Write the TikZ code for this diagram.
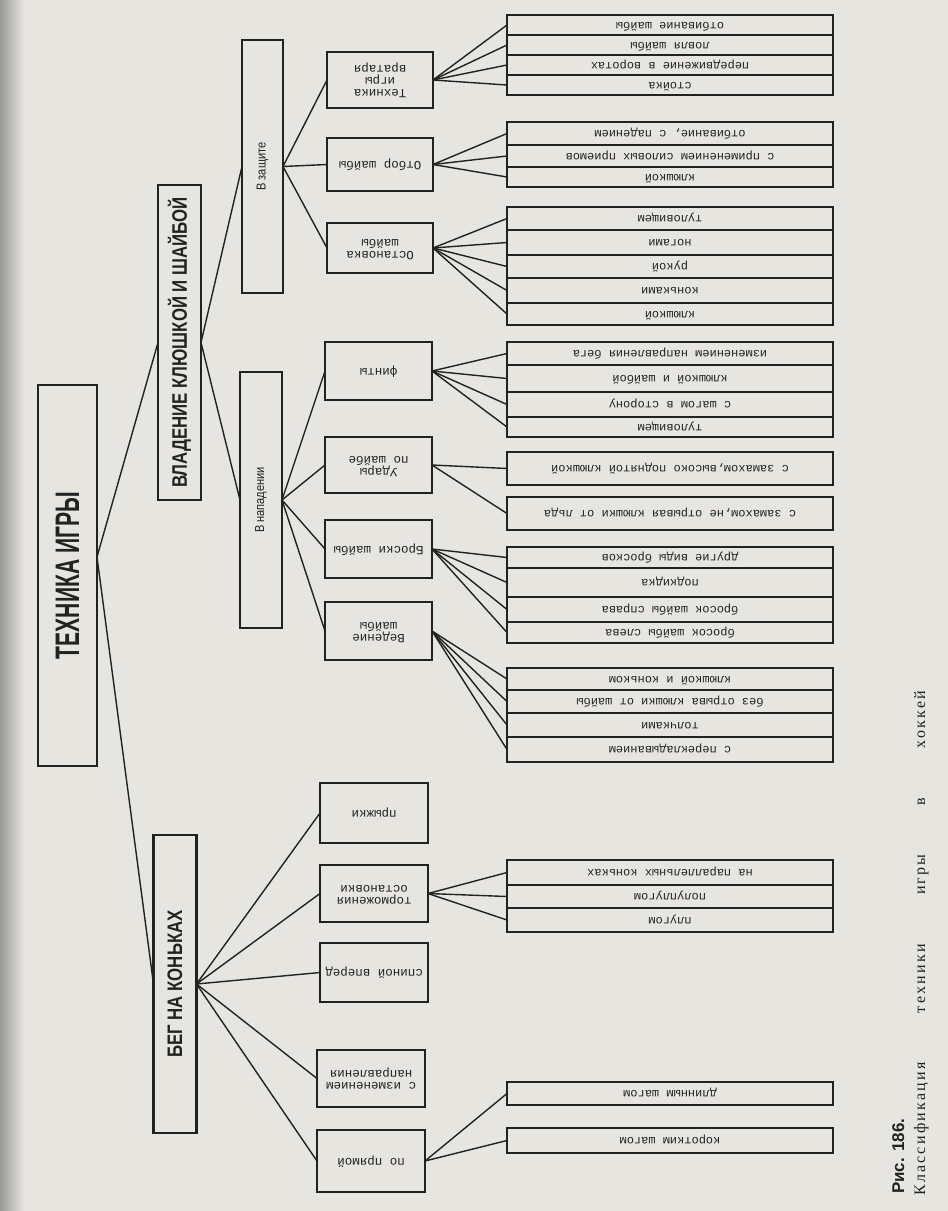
\documentclass[tikz,border=0pt]{standalone}
\usepackage{graphicx}
\usepackage{fontspec}
\setmainfont{Liberation Serif}
\newfontfamily\capserif[LetterSpace=14]{Liberation Serif}
\newfontfamily\titlesans[FakeStretch=0.62]{Liberation Sans}
\newfontfamily\headsans[FakeStretch=0.8]{Liberation Sans}
\newfontfamily\subsans[FakeStretch=0.85]{Liberation Sans}
\newfontfamily\typew{Liberation Mono}
\newfontfamily\capsans{Liberation Sans}
\usetikzlibrary{calc}
\definecolor{paper}{RGB}{231,229,224}
\definecolor{ink}{RGB}{34,34,34}
\newcommand{\updown}[1]{\rotatebox{180}{\begin{tabular}{@{}c@{}}#1\end{tabular}}}
\newcommand{\upward}[1]{\rotatebox{90}{#1}}
\tikzset{
  box/.style={draw=ink, line width=2.2pt, inner sep=0pt, outer sep=0pt, text=ink},
  lvlone/.style={box, font=\headsans\bfseries\fontsize{21}{24}\selectfont},
  lvltwo/.style={box, font=\subsans\fontsize{13}{15}\selectfont},
  lvlthree/.style={box, font=\typew\fontsize{12.5}{12}\selectfont},
  leaf/.style={draw=ink, line width=1.8pt, inner sep=0pt, outer sep=0pt, minimum width=326pt, text=ink, font=\typew\fontsize{12}{13}\selectfont},
  link/.style={draw=ink, line width=1.4pt},
}
\begin{document}
\begin{tikzpicture}[x=1pt,y=-1pt]
\useasboundingbox (0,0) rectangle (948,1211);
\fill[paper] (0,0) rectangle (948,1211);
\shade[left color=black!40, right color=paper] (0,0) rectangle (24,1211);

% level 0 and 1
\node[box, minimum width=59, minimum height=381, font=\titlesans\bfseries\fontsize{34}{36}\selectfont] (tech) at (67.5,575.5) {\upward{ТЕХНИКА ИГРЫ}};
\node[lvlone, minimum width=43, minimum height=315] (vlad) at (179.5,342.5) {\upward{ВЛАДЕНИЕ КЛЮШКОЙ И ШАЙБОЙ}};
\node[lvlone, minimum width=43, minimum height=298] (beg) at (175,984) {\upward{БЕГ НА КОНЬКАХ}};

% level 2
\node[lvltwo, minimum width=41, minimum height=253] (zashch) at (262.5,166.5) {\upward{В защите}};
\node[lvltwo, minimum width=42, minimum height=256] (napad) at (261,500) {\upward{В нападении}};

% level 3
\node[lvlthree, minimum width=106, minimum height=56] (vrat) at (380,80) {\updown{Техника\\игры\\вратаря}};
\node[lvlthree, minimum width=106, minimum height=53] (otbor) at (380,164.5) {\updown{Отбор шайбы}};
\node[lvlthree, minimum width=106, minimum height=50] (ostan) at (380,248) {\updown{Остановка\\шайбы}};
\node[lvlthree, minimum width=107, minimum height=58] (finty) at (378.5,371) {\updown{финты}};
\node[lvlthree, minimum width=107, minimum height=56] (udary) at (378.5,465) {\updown{Удары\\по шайбе}};
\node[lvlthree, minimum width=107, minimum height=58] (broski) at (378.5,549) {\updown{Броски шайбы}};
\node[lvlthree, minimum width=107, minimum height=58] (vedenie) at (378.5,631) {\updown{Ведение\\шайбы}};
\node[lvlthree, minimum width=108, minimum height=60] (pryzhki) at (374,813) {\updown{прыжки}};
\node[lvlthree, minimum width=108, minimum height=57] (torm) at (374,893.5) {\updown{торможения\\остановки}};
\node[lvlthree, minimum width=108, minimum height=59] (spinoy) at (374,972.5) {\updown{спиной вперед}};
\node[lvlthree, minimum width=108, minimum height=57] (izmen) at (371,1078.5) {\updown{с изменением\\направления}};
\node[lvlthree, minimum width=108, minimum height=62] (pryam) at (371,1161) {\updown{по прямой}};

% leaves: goalkeeper
\node[leaf, minimum height=20] (vr1) at (670,25) {\updown{отбивание шайбы}};
\node[leaf, minimum height=20] (vr2) at (670,45) {\updown{ловля шайбы}};
\node[leaf, minimum height=20] (vr3) at (670,65) {\updown{передвижение в воротах}};
\node[leaf, minimum height=20] (vr4) at (670,85) {\updown{стойка}};
% otbor
\node[leaf, minimum height=23] (ot1) at (670,133.5) {\updown{отбивание, с падением}};
\node[leaf, minimum height=22] (ot2) at (670,156) {\updown{с применением силовых приемов}};
\node[leaf, minimum height=20] (ot3) at (670,177) {\updown{клюшкой}};
% ostanovka
\node[leaf, minimum height=23] (os1) at (670,218.5) {\updown{туловищем}};
\node[leaf, minimum height=25] (os2) at (670,242.5) {\updown{ногами}};
\node[leaf, minimum height=23] (os3) at (670,266.5) {\updown{рукой}};
\node[leaf, minimum height=25] (os4) at (670,290.5) {\updown{коньками}};
\node[leaf, minimum height=22] (os5) at (670,314) {\updown{клюшкой}};
% finty
\node[leaf, minimum height=23] (fi1) at (670,353.5) {\updown{изменением направления бега}};
\node[leaf, minimum height=27] (fi2) at (670,378.5) {\updown{клюшкой и шайбой}};
\node[leaf, minimum height=25] (fi3) at (670,404.5) {\updown{с шагом в сторону}};
\node[leaf, minimum height=20] (fi4) at (670,427) {\updown{туловищем}};
% udary
\node[leaf, minimum height=33] (ud1) at (670,468.5) {\updown{с замахом,высоко поднятой клюшкой}};
\node[leaf, minimum height=33] (ud2) at (670,513.5) {\updown{с замахом,не отрывая клюшки от льда}};
% broski
\node[leaf, minimum height=21] (br1) at (670,557.5) {\updown{другие виды бросков}};
\node[leaf, minimum height=29] (br2) at (670,582.5) {\updown{подкидка}};
\node[leaf, minimum height=25] (br3) at (670,609.5) {\updown{бросок шайбы справа}};
\node[leaf, minimum height=21] (br4) at (670,632.5) {\updown{бросок шайбы слева}};
% vedenie
\node[leaf, minimum height=22] (ve1) at (670,679) {\updown{клюшкой и коньком}};
\node[leaf, minimum height=23] (ve2) at (670,701.5) {\updown{без отрыва клюшки от шайбы}};
\node[leaf, minimum height=24] (ve3) at (670,725) {\updown{толчками}};
\node[leaf, minimum height=25] (ve4) at (670,749.5) {\updown{с перекладыванием}};
% tormozhenie
\node[leaf, minimum height=25] (to1) at (670,872.5) {\updown{на параллельных коньках}};
\node[leaf, minimum height=23] (to2) at (670,896.5) {\updown{полуплугом}};
\node[leaf, minimum height=24] (to3) at (670,920) {\updown{плугом}};
% po pryamoy
\node[leaf, minimum height=23] (pr1) at (670,1093.5) {\updown{длинным шагом}};
\node[leaf, minimum height=25] (pr2) at (670,1140.5) {\updown{коротким шагом}};

% caption
\node[rotate=90, anchor=base west, inner sep=0pt, text=ink, font=\capsans\bfseries\fontsize{17}{20}\selectfont] (cap1) at (904,1194) {Рис. 186.};
\node[rotate=90, anchor=base west, inner sep=0pt, text=ink, font=\capserif\fontsize{16}{19}\selectfont] (cap2) at (925,1196) {\makebox[505pt][s]{Классификация техники игры в хоккей}};

% connectors
\coordinate (techO) at (97,557);
\draw[link] (techO) -- (vlad.west);
\draw[link] (techO) -- (beg.west);
\foreach \t in {zashch,napad} \draw[link] (vlad.east) -- (\t.west);
\foreach \t in {vrat,otbor,ostan} \draw[link] (zashch.east) -- (\t.west);
\foreach \t in {finty,udary,broski,vedenie} \draw[link] (napad.east) -- (\t.west);
\foreach \t in {pryzhki,torm,spinoy,izmen,pryam} \draw[link] (beg.east) -- (\t.west);
\foreach \t in {vr1,vr2,vr3,vr4} \draw[link] (vrat.east) -- (\t.west);
\foreach \t in {ot1,ot2,ot3} \draw[link] (otbor.east) -- (\t.west);
\foreach \t in {os1,os2,os3,os4,os5} \draw[link] (ostan.east) -- (\t.west);
\foreach \t in {fi1,fi2,fi3,fi4} \draw[link] (finty.east) -- (\t.west);
\foreach \t in {ud1,ud2} \draw[link] (udary.east) -- (\t.west);
\foreach \t in {br1,br2,br3,br4} \draw[link] (broski.east) -- (\t.west);
\foreach \t in {ve1,ve2,ve3,ve4} \draw[link] (vedenie.east) -- (\t.west);
\foreach \t in {to1,to2,to3} \draw[link] (torm.east) -- (\t.west);
\foreach \t in {pr1,pr2} \draw[link] (pryam.east) -- (\t.west);
\end{tikzpicture}
\end{document}
